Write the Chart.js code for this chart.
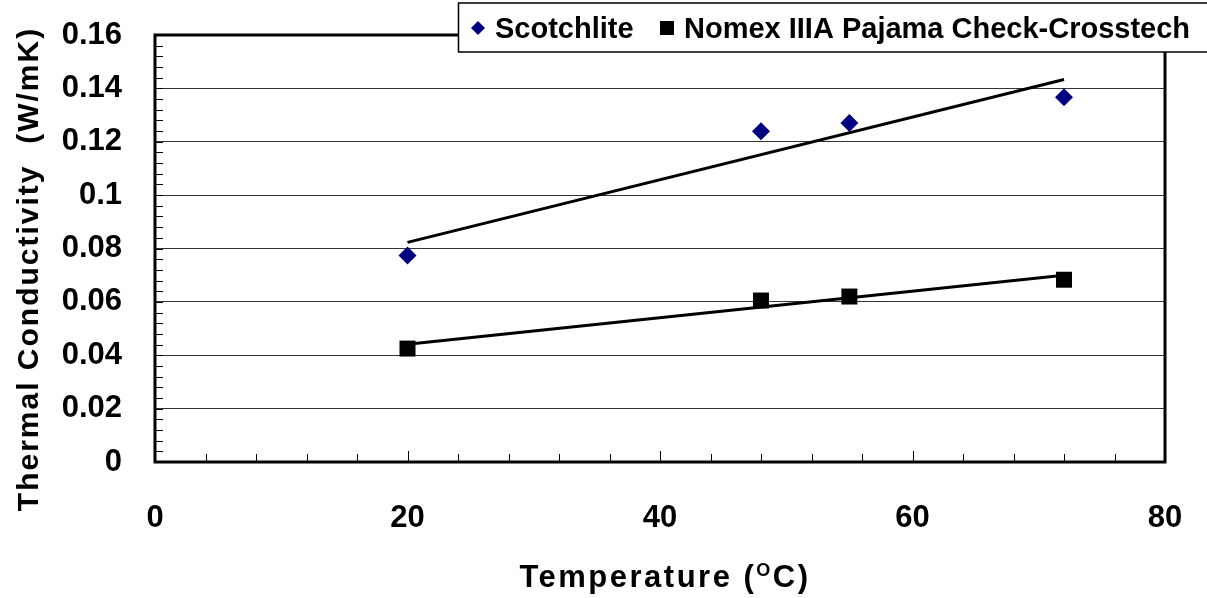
<!DOCTYPE html>
<html>
<head>
<meta charset="utf-8">
<script src="https://cdn.jsdelivr.net/npm/chart.js@4/dist/chart.umd.min.js"></script>
<style>
  html, body { margin: 0; padding: 0; background: #fff; }
  #wrap { position: relative; width: 1207px; height: 598px; }
</style>
</head>
<body>
<div id="wrap"><canvas id="c"></canvas></div>
<script>
// ---- data ----
const temps = [20, 48, 55, 72];
const scotchlite = [0.0774, 0.1239, 0.1270, 0.1367];
const nomex = [0.0425, 0.0605, 0.0620, 0.0683];
const trendX = [20, 72];
const scotchTrend = [0.0823, 0.1433];
const nomexTrend = [0.0441, 0.0700];
const seriesNames = ['Scotchlite', 'Nomex IIIA Pajama Check-Crosstech'];
const xTickLabels = ['0', '20', '40', '60', '80'];
const yTickLabels = ['0', '0.02', '0.04', '0.06', '0.08', '0.1', '0.12', '0.14', '0.16'];
const xTitle = ['Temperature (', 'O', 'C)'];
const yTitle = 'Thermal Conductivity  (W/mK)';

const FONT = '"Liberation Sans", Arial, sans-serif';
const toPts = (xs, ys) => xs.map((x, i) => ({ x: x, y: ys[i] }));

const framePlugin = {
  id: 'frame',
  afterDatasetsDraw(chart) {
    const ctx = chart.ctx;
    const a = chart.chartArea;
    const xs = chart.scales.x, ys = chart.scales.y;
    ctx.save();
    ctx.strokeStyle = '#000';
    ctx.lineWidth = 1;
    ctx.beginPath();
    for (let v = 0; v <= 80.001; v += 4) {
      const px = Math.round(xs.getPixelForValue(v)) + 0.5;
      const len = (Math.round(v) % 20 === 0) ? 11 : 8;
      ctx.moveTo(px, a.bottom);
      ctx.lineTo(px, a.bottom - len);
    }
    for (let i = 0; i <= 40; i++) {
      const v = i * 0.004;
      const py = Math.round(ys.getPixelForValue(v)) + 0.5;
      ctx.moveTo(a.left, py);
      ctx.lineTo(a.left + 8, py);
    }
    ctx.stroke();
    ctx.lineWidth = 3;
    ctx.strokeRect(a.left, a.top, a.right - a.left, a.bottom - a.top);
    ctx.restore();
  },
  afterDraw(chart) {
    const ctx = chart.ctx;
    ctx.save();
    // legend box
    ctx.fillStyle = '#fff';
    ctx.fillRect(458, 3, 760, 49);
    ctx.strokeStyle = '#000';
    ctx.lineWidth = 1.5;
    ctx.strokeRect(458.5, 3, 760, 49);
    ctx.fillStyle = '#000080';
    ctx.beginPath();
    ctx.moveTo(478, 21); ctx.lineTo(485, 28); ctx.lineTo(478, 35); ctx.lineTo(471, 28);
    ctx.closePath(); ctx.fill();
    ctx.fillStyle = '#000';
    ctx.fillRect(660, 21, 14, 14);
    ctx.font = 'bold 29px ' + FONT;
    ctx.textBaseline = 'alphabetic';
    ctx.textAlign = 'left';
    ctx.fillText(chart.data.datasets[0].label, 495, 38);
    ctx.fillText(chart.data.datasets[1].label, 684, 38);

    // x title with superscript
    const big = 'bold 31px ' + FONT, small = 'bold 18px ' + FONT;
    ctx.letterSpacing = '2.5px';
    ctx.font = big;
    const w1 = ctx.measureText(xTitle[0]).width;
    const w3 = ctx.measureText(xTitle[2]).width;
    ctx.font = small;
    const w2 = ctx.measureText(xTitle[1]).width;
    let x0 = 665 - (w1 + w2 + w3) / 2;
    ctx.font = big;
    ctx.fillText(xTitle[0], x0, 587);
    ctx.font = small;
    ctx.fillText(xTitle[1], x0 + w1, 576);
    ctx.font = big;
    ctx.fillText(xTitle[2], x0 + w1 + w2, 587);

    // y title
    ctx.letterSpacing = '2px';
    ctx.translate(30, 269);
    ctx.rotate(-Math.PI / 2);
    ctx.font = 'bold 30px ' + FONT;
    ctx.textAlign = 'center';
    ctx.textBaseline = 'middle';
    ctx.fillText(yTitle, 0, 0);
    ctx.restore();
  }
};

function zeroPad(s) { s.paddingTop = 0; s.paddingBottom = 0; s.paddingLeft = 0; s.paddingRight = 0; }

new Chart(document.getElementById('c'), {
  type: 'scatter',
  data: {
    datasets: [
      { label: seriesNames[0], data: toPts(temps, scotchlite), pointStyle: 'rectRot', pointRadius: 9,
        backgroundColor: '#000080', borderColor: '#000080', borderWidth: 0, showLine: false, order: 1 },
      { label: seriesNames[1], data: toPts(temps, nomex), pointStyle: 'rect', pointRadius: 11.3,
        backgroundColor: '#000', borderColor: '#000', borderWidth: 0, showLine: false, order: 1 },
      { label: 'trend1', data: toPts(trendX, scotchTrend), showLine: true, pointRadius: 0,
        borderColor: '#000', borderWidth: 3, order: 2 },
      { label: 'trend2', data: toPts(trendX, nomexTrend), showLine: true, pointRadius: 0,
        borderColor: '#000', borderWidth: 3, order: 2 }
    ]
  },
  options: {
    responsive: true,
    maintainAspectRatio: false,
    animation: false,
    devicePixelRatio: 1,
    layout: { padding: { top: 35, right: 42, left: 0, bottom: 0 } },
    plugins: { legend: { display: false }, tooltip: { enabled: false } },
    scales: {
      x: {
        type: 'linear', min: 0, max: 80,
        afterFit(s) { s.height = 136; zeroPad(s); },
        ticks: { stepSize: 20, color: '#000', padding: 38,
          font: { family: FONT, size: 31, weight: 'bold' },
          callback: (v) => xTickLabels[Math.round(v / 20)] },
        grid: { display: true, drawOnChartArea: false, drawTicks: false },
        border: { display: false }
      },
      y: {
        type: 'linear', min: 0, max: 0.16,
        afterFit(s) { s.width = 155; zeroPad(s); },
        ticks: { stepSize: 0.02, color: '#000', padding: 33,
          font: { family: FONT, size: 31, weight: 'bold' },
          callback: (v) => yTickLabels[Math.round(v / 0.02)] },
        grid: { display: true, drawOnChartArea: true, drawTicks: false, color: '#333', lineWidth: 1 },
        border: { display: false }
      }
    }
  },
  plugins: [framePlugin]
});
</script>
</body>
</html>
